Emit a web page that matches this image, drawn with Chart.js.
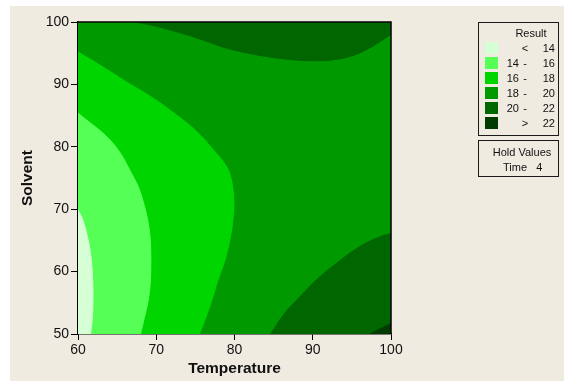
<!DOCTYPE html>
<html><head><meta charset="utf-8">
<script src="https://cdn.jsdelivr.net/npm/chart.js@4/dist/chart.umd.min.js"></script>
<style>
html,body{margin:0;padding:0;background:#ffffff;}
#bg{position:absolute;left:10px;top:6px;width:554px;height:375px;background:#EFEBE1;}
#c{position:absolute;left:0;top:0;}
.box{position:absolute;border:1px solid #1a1a1a;font-family:'Liberation Sans',Arial,sans-serif;font-size:11px;color:#111;box-sizing:border-box;}
.t{position:absolute;white-space:nowrap;line-height:13px;}
.sw{position:absolute;width:13px;height:12px;}
</style></head><body>
<div id="bg"></div>
<canvas id="c" width="564" height="381" style="width:564px;height:381px"></canvas>
<div id="leg" class="box" style="left:478px;top:22px;width:81px;height:114px;"></div>
<div class="box" style="left:478px;top:140px;width:81px;height:37px;">
  <div class="t" style="left:0;width:86px;text-align:center;top:5px;">Hold Values</div>
  <div class="t" style="left:24px;top:20px;">Time&nbsp;&nbsp;&nbsp;4</div>
</div>
<script>
// Axis ticks
const tempTicks = [60, 70, 80, 90, 100];
const solventTicks = [50, 60, 70, 80, 90, 100];

// Legend classes
const levelLo = ['', '14', '16', '18', '20', ''];
const levelSym = ['<', '-', '-', '-', '-', '>'];
const levelHi = ['14', '16', '18', '20', '22', '22'];
const levelColors = ['#D6FFD6', '#55FF55', '#00D500', '#009900', '#006600', '#003C00'];

// Contour boundaries (Temperature, Solvent)
// <14 | 14-16 boundary
const b14T = [61.6, 61.8, 61.9, 61.9, 61.8, 61.6, 61.2, 60.6, 60.0];
const b14S = [50.0, 52.2, 54.9, 57.6, 60.3, 62.9, 65.6, 68.3, 69.9];
// 14-16 | 16-18 boundary
const b16T = [68.0, 68.4, 68.9, 69.2, 69.3, 69.3, 69.2, 68.9, 68.4, 67.7, 66.6, 65.4, 63.7, 61.1, 60.0];
const b16S = [50.0, 52.2, 54.9, 57.6, 60.3, 62.9, 65.6, 68.3, 70.9, 73.6, 76.3, 79.0, 81.6, 84.3, 85.4];
// 16-18 | 18-20 boundary
const b18T = [75.5, 76.2, 77.1, 77.9, 78.8, 79.4, 79.8, 79.9, 79.6, 79.0, 77.1, 75.2, 72.6, 69.6, 66.2, 62.8, 60.0];
const b18S = [50.0, 52.2, 55.4, 58.7, 61.9, 65.1, 68.3, 71.5, 74.7, 76.8, 79.8, 82.4, 85.1, 87.8, 90.4, 93.1, 95.2];
// 18-20 | 20-22 boundary (top)
const b20TopT = [67.5, 70.0, 73.0, 76.0, 79.0, 83.0, 87.0, 90.0, 93.0, 95.5, 97.5, 99.0, 100.0];
const b20TopS = [100.0, 99.3, 98.3, 97.1, 95.8, 94.7, 94.0, 93.8, 94.0, 94.8, 96.0, 97.2, 98.0];
// 18-20 | 20-22 boundary (bottom right)
const b20BotT = [84.6, 86.4, 88.4, 90.5, 93.0, 96.0, 98.6, 100.0];
const b20BotS = [50.0, 53.3, 56.0, 58.7, 61.3, 64.0, 65.6, 66.1];
// 20-22 | >22 boundary (bottom right corner)
const b22T = [97.3, 98.7, 100.0];
const b22S = [50.0, 50.9, 51.7];

const pts = (T, S) => T.map((t, i) => ({x: t, y: S[i]}));

// legend
const leg = document.getElementById('leg');
let html = '<div class="t" style="left:36px;width:32px;text-align:center;top:4px;">Result</div>';
for (let i = 0; i < levelColors.length; i++) {
  const top = 19 + 15 * i;
  html += `<div class="sw" style="left:6px;top:${top}px;background:${levelColors[i]}"></div>`;
  html += `<div class="t" style="left:20px;width:20px;text-align:right;top:${top}px;">${levelLo[i]}</div>`;
  html += `<div class="t" style="left:42px;width:8px;text-align:center;top:${top}px;">${levelSym[i]}</div>`;
  html += `<div class="t" style="left:52px;width:24px;text-align:right;top:${top}px;">${levelHi[i]}</div>`;
}
leg.innerHTML = html;

const bgPlugin = {
  id: 'plotBg',
  beforeDatasetsDraw(chart) {
    const {ctx, chartArea: a} = chart;
    ctx.save();
    ctx.fillStyle = levelColors[3];
    ctx.fillRect(a.left, a.top, a.right - a.left, a.bottom - a.top);
    ctx.restore();
  }
};
const framePlugin = {
  id: 'frame',
  afterDatasetsDraw(chart) {
    const {ctx, chartArea: a} = chart;
    ctx.save();
    ctx.strokeStyle = '#000';
    ctx.lineWidth = 1.5;
    ctx.beginPath();
    ctx.moveTo(a.left, a.top); ctx.lineTo(a.right, a.top); ctx.lineTo(a.right, a.bottom);
    ctx.stroke();
    ctx.restore();
  }
};

function ds(data, color, axis, fillVal) {
  return {data, indexAxis: axis, backgroundColor: color, borderColor: color, borderWidth: 1,
    fill: {value: fillVal}, pointRadius: 0, tension: 0.4};
}

new Chart(document.getElementById('c'), {
  type: 'line',
  data: {
    datasets: [
      ds(pts(b22T, b22S), levelColors[5], 'x', 50),
      ds(pts(b20BotT, b20BotS), levelColors[4], 'x', 50),
      ds(pts(b20TopT, b20TopS), levelColors[4], 'x', 100),
      ds(pts(b14T, b14S), levelColors[0], 'y', 60),
      ds(pts(b16T, b16S), levelColors[1], 'y', 60),
      ds(pts(b18T, b18S), levelColors[2], 'y', 60)
    ]
  },
  options: {
    responsive: false,
    animation: false,
    layout: {padding: {top: 22, right: 173, left: 0, bottom: 0}},
    plugins: {legend: {display: false}, tooltip: {enabled: false}},
    scales: {
      x: {
        type: 'linear', min: 60, max: 100, z: 1,
        afterBuildTicks: s => { s.ticks = tempTicks.map(v => ({value: v})); },
        ticks: {color: '#111', font: {family: 'Liberation Sans', size: 14}, padding: 2, maxRotation: 0, autoSkip: false},
        grid: {drawOnChartArea: false, drawTicks: true, tickLength: 6, color: '#000', tickColor: '#000'},
        border: {display: true, color: '#000', width: 1.5},
        title: {display: true, text: 'Temperature', color: '#111',
          font: {family: 'Liberation Sans', size: 15.5, weight: 'bold'}, padding: {top: 0, bottom: 3}},
        afterFit: s => { s.height = 47; }
      },
      y: {
        type: 'linear', min: 50, max: 100, z: 1,
        afterBuildTicks: s => { s.ticks = solventTicks.map(v => ({value: v})); },
        ticks: {color: '#111', font: {family: 'Liberation Sans', size: 14}, padding: 2, autoSkip: false},
        grid: {drawOnChartArea: false, drawTicks: true, tickLength: 7, color: '#000', tickColor: '#000'},
        border: {display: true, color: '#000', width: 1.5},
        title: {display: true, text: 'Solvent', color: '#111',
          font: {family: 'Liberation Sans', size: 15.5, weight: 'bold'}, padding: {top: 18, bottom: 0}},
        afterFit: s => { s.width = 78; }
      }
    }
  },
  plugins: [bgPlugin, framePlugin]
});
</script>
</body></html>
